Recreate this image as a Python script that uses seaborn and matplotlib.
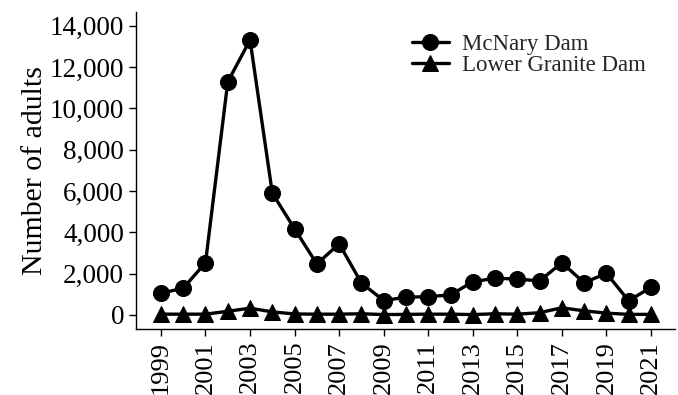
import matplotlib
matplotlib.use("Agg")
import matplotlib.pyplot as plt
import matplotlib.ticker as mticker
import numpy as np
import pandas as pd
import seaborn as sns

years = list(range(1999, 2022))
mcnary = [1050, 1300, 2530, 11290, 13320, 5900, 4170, 2470, 3450, 1550, 700,
          860, 890, 970, 1610, 1780, 1740, 1650, 2530, 1560, 2020, 690, 1340]
lower_granite = [40, 40, 40, 180, 330, 150, 50, 40, 40, 60, 20,
                 30, 40, 40, 20, 60, 40, 110, 350, 200, 90, 30, 30]
series_names = ["McNary Dam", "Lower Granite Dam"]
y_ticks = list(range(0, 14001, 2000))
x_ticks = list(range(1999, 2022, 2))

df = pd.DataFrame({
    "Year": years * 2,
    "Adults": mcnary + lower_granite,
    "Site": [series_names[0]] * len(years) + [series_names[1]] * len(years),
})

sns.set_theme(style="ticks")
plt.rcParams["font.family"] = ["Liberation Serif", "DejaVu Serif"]

fig = plt.figure(figsize=(6.78, 3.95), dpi=100)
ax = fig.add_axes([0.2006, 0.167, 0.795, 0.803])

sns.lineplot(
    data=df, x="Year", y="Adults", hue="Site", style="Site",
    markers={series_names[0]: "o", series_names[1]: "^"},
    dashes=False, palette=["black", "black"], linewidth=2.4,
    markersize=11.5, markeredgecolor="black", ax=ax,
)

ax.set_xlim(1997.88, 2022.08)
ax.set_ylim(-680, 14680)
ax.set_xticks(x_ticks)
ax.set_yticks(y_ticks)
ax.yaxis.set_major_formatter(mticker.FuncFormatter(lambda v, p: f"{int(v):,}"))
ax.tick_params(axis="x", labelrotation=90, labelsize=19, length=5, width=1, colors="black")
ax.tick_params(axis="y", labelsize=19.5, length=5, width=1, colors="black")
ax.set_xlabel("")
ax.set_ylabel("Number of adults", fontsize=21.5, color="black", labelpad=1)
for s in ["top", "right"]:
    ax.spines[s].set_visible(False)
for s in ["left", "bottom"]:
    ax.spines[s].set_color("black")
    ax.spines[s].set_linewidth(1)

ax.legend(
    loc="upper left", bbox_to_anchor=(0.495, 0.958), frameon=False,
    fontsize=16.5, handlelength=1.6, labelspacing=0.0, handletextpad=0.6,
    borderaxespad=0,
)

fig.savefig("out.png", dpi=100, facecolor="white")
